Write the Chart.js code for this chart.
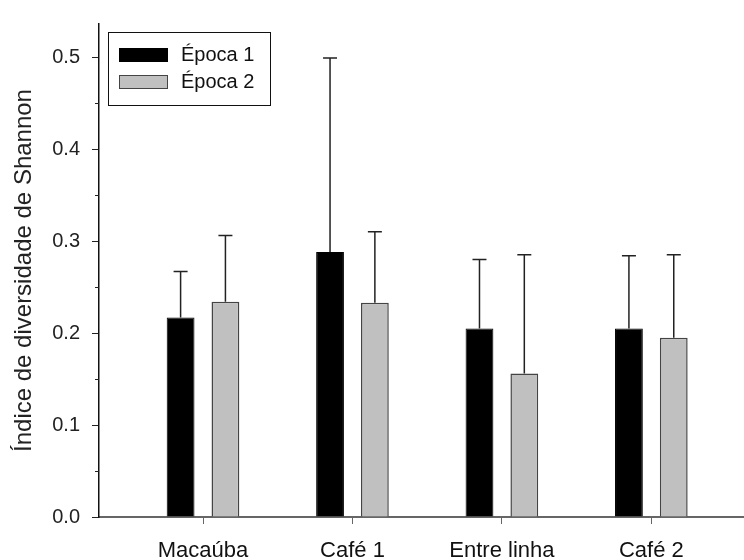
<!DOCTYPE html>
<html>
<head>
<meta charset="utf-8">
<script src="https://cdn.jsdelivr.net/npm/chart.js@4.4.1/dist/chart.umd.min.js"></script>
<style>
  html, body { margin: 0; padding: 0; background: #fff; }
  #wrap { width: 744px; height: 560px; }
</style>
</head>
<body>
<div id="wrap"><canvas id="chart"></canvas></div>
<script>
// categorias e valores
const categories = ['Macaúba', 'Café 1', 'Entre linha', 'Café 2'];
const epoca1 = [0.217, 0.288, 0.205, 0.205];
const epoca1Err = [0.050, 0.211, 0.075, 0.079];
const epoca2 = [0.234, 0.233, 0.156, 0.195];
const epoca2Err = [0.072, 0.077, 0.129, 0.090];
const yTicks = [0, 0.1, 0.2, 0.3, 0.4, 0.5];
const yMinorTicks = [0.05, 0.15, 0.25, 0.35, 0.45];

const FONT = '"Liberation Sans", Arial, sans-serif';

// barras de erro (só para cima)
const errorBars = {
  id: 'errorBars',
  afterDatasetsDraw(chart) {
    const ctx = chart.ctx;
    const y = chart.scales.y;
    chart.data.datasets.forEach((ds, i) => {
      const meta = chart.getDatasetMeta(i);
      meta.data.forEach((bar, j) => {
        const top = y.getPixelForValue(ds.data[j].y + ds.errors[j]);
        ctx.save();
        ctx.strokeStyle = '#222';
        ctx.lineWidth = 1.5;
        ctx.beginPath();
        ctx.moveTo(bar.x, bar.y);
        ctx.lineTo(bar.x, top);
        ctx.moveTo(bar.x - 7, top);
        ctx.lineTo(bar.x + 7, top);
        ctx.stroke();
        ctx.restore();
      });
    });
  }
};

// marcas menores do eixo y
const minorTicks = {
  id: 'minorTicks',
  afterDraw(chart) {
    const ctx = chart.ctx;
    const y = chart.scales.y;
    const left = chart.chartArea.left;
    ctx.save();
    ctx.strokeStyle = '#222';
    ctx.lineWidth = 1;
    yMinorTicks.forEach(v => {
      const py = Math.round(y.getPixelForValue(v)) + 0.5;
      ctx.beginPath();
      ctx.moveTo(left - 4, py);
      ctx.lineTo(left, py);
      ctx.stroke();
    });
    ctx.restore();
  }
};

// legenda com caixa
const boxLegend = {
  id: 'boxLegend',
  afterDraw(chart) {
    const ctx = chart.ctx;
    const x0 = chart.chartArea.left + 9;
    const y0 = chart.chartArea.top + 8;
    ctx.save();
    ctx.fillStyle = '#fff';
    ctx.fillRect(x0, y0, 162, 73);
    ctx.strokeStyle = '#111';
    ctx.lineWidth = 1;
    ctx.strokeRect(x0 + 0.5, y0 + 0.5, 162, 73);
    chart.data.datasets.forEach((ds, i) => {
      const sy = y0 + 16 + i * 27;
      ctx.fillStyle = ds.backgroundColor;
      ctx.fillRect(x0 + 11, sy, 49, 14);
      ctx.strokeStyle = ds.borderColor;
      ctx.strokeRect(x0 + 11.5, sy + 0.5, 48, 13);
      ctx.fillStyle = '#111';
      ctx.font = '20px ' + FONT;
      ctx.textBaseline = 'middle';
      ctx.fillText(ds.label, x0 + 73, sy + 7);
    });
    ctx.restore();
  }
};

new Chart(document.getElementById('chart'), {
  type: 'bar',
  data: {
    datasets: [
      {
        label: 'Época 1',
        data: epoca1.map((v, i) => ({ x: i + 1, y: v })),
        errors: epoca1Err,
        backgroundColor: '#000',
        borderColor: '#000',
        borderWidth: 1
      },
      {
        label: 'Época 2',
        data: epoca2.map((v, i) => ({ x: i + 1, y: v })),
        errors: epoca2Err,
        backgroundColor: '#c0c0c0',
        borderColor: '#444',
        borderWidth: 1.5
      }
    ]
  },
  options: {
    responsive: true,
    maintainAspectRatio: false,
    animation: false,
    categoryPercentage: 0.6,
    barPercentage: 0.62,
    layout: { padding: { top: 13, right: 0, left: 0, bottom: 0 } },
    plugins: {
      legend: { display: false },
      tooltip: { enabled: false }
    },
    scales: {
      x: {
        type: 'linear',
        offset: false,
        min: 0.304,
        max: 4.62,
        afterBuildTicks: s => { s.ticks = categories.map((c, i) => ({ value: i + 1 })); },
        afterFit: s => { s.height = 43; },
        grid: { offset: false, drawOnChartArea: false, drawTicks: true, tickLength: 7, color: '#666' },
        border: { display: true, color: '#666', width: 2 },
        ticks: {
          padding: 14,
          color: '#111',
          font: { family: FONT, size: 22 },
          callback: v => categories[v - 1]
        }
      },
      y: {
        min: 0,
        max: 0.536,
        afterBuildTicks: s => { s.ticks = yTicks.map(v => ({ value: v })); },
        afterFit: s => { s.width = 99; },
        grid: { drawOnChartArea: false, drawTicks: true, tickLength: 7, color: '#222' },
        border: { display: true, color: '#111', width: 1.5 },
        ticks: {
          padding: 12,
          color: '#222',
          font: { family: FONT, size: 20 },
          callback: v => v.toFixed(1)
        },
        title: {
          display: true,
          text: 'Índice de diversidade de Shannon',
          color: '#222',
          font: { family: FONT, size: 24 },
          padding: { top: 10, bottom: 0 }
        }
      }
    }
  },
  plugins: [errorBars, minorTicks, boxLegend]
});
</script>
</body>
</html>
